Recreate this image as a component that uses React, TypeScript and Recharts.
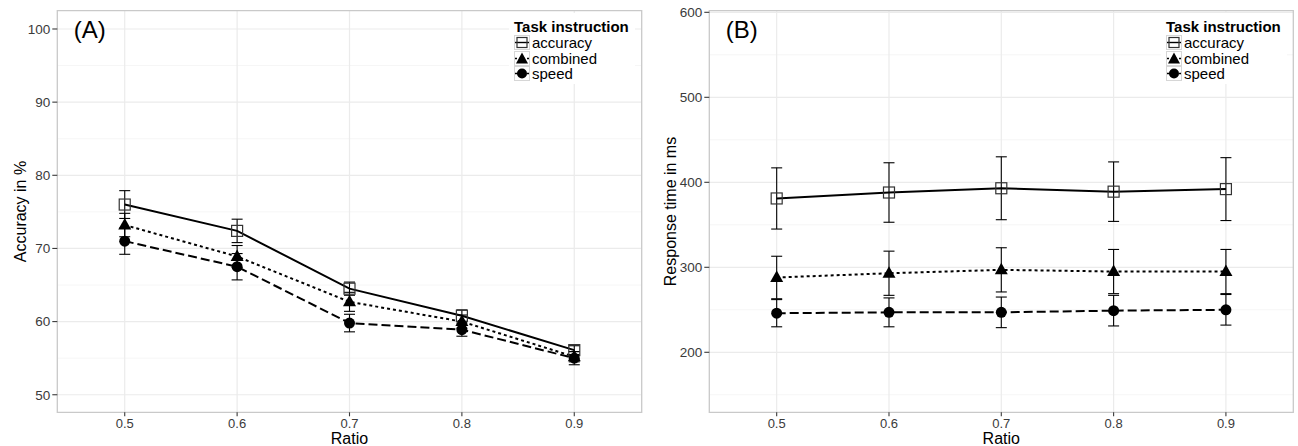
import React from 'react';
import {
  LineChart,
  Line,
  XAxis,
  YAxis,
  CartesianGrid,
  ErrorBar,
  ReferenceArea,
  Label,
  Legend,
} from 'recharts';

const FONT = '"Liberation Sans", Arial, Helvetica, sans-serif';

// ---------- data ----------
const ratios = [0.5, 0.6, 0.7, 0.8, 0.9];
const xTickValues = [0.5, 0.6, 0.7, 0.8, 0.9];
const legendLabels = ['accuracy', 'combined', 'speed'];

// Panel A: accuracy in %
const accAccuracy = [76.0, 72.4, 64.5, 60.8, 56.1];
const accAccuracyErr = [1.9, 1.6, 0.9, 0.8, 0.6];
const accCombined = [73.2, 68.9, 62.7, 60.0, 55.2];
const accCombinedErr = [1.6, 1.5, 1.3, 0.9, 0.7];
const accSpeed = [71.0, 67.5, 59.8, 58.9, 55.0];
const accSpeedErr = [1.8, 1.8, 1.2, 0.9, 0.9];
const accYTicks = [50, 60, 70, 80, 90, 100];
const accYMinor = [55, 65, 75, 85, 95];

// Panel B: response time in ms
const rtAccuracy = [381, 388, 393, 389, 392];
const rtAccuracyErr = [36, 35, 37, 35, 37];
const rtCombined = [288, 293, 297, 295, 295];
const rtCombinedErr = [25, 26, 26, 26, 26];
const rtSpeed = [246, 247, 247, 249, 250];
const rtSpeedErr = [16, 17, 18, 18, 18];
const rtYTicks = [200, 300, 400, 500, 600];
const rtYMinor = [150, 250, 350, 450, 550];

function buildRows(a: number[], ae: number[], c: number[], ce: number[], s: number[], se: number[]) {
  return ratios.map((r, i) => ({
    ratio: r,
    accuracy: a[i],
    accuracyErr: ae[i],
    combined: c[i],
    combinedErr: ce[i],
    speed: s[i],
    speedErr: se[i],
  }));
}

const accRows = buildRows(accAccuracy, accAccuracyErr, accCombined, accCombinedErr, accSpeed, accSpeedErr);
const rtRows = buildRows(rtAccuracy, rtAccuracyErr, rtCombined, rtCombinedErr, rtSpeed, rtSpeedErr);

// ---------- markers ----------
const SquareDot = (p: any) => {
  const { cx, cy, index } = p;
  if (cx == null || cy == null) return <g key={`sq-${index}`} />;
  return (
    <rect key={`sq-${index}`} x={cx - 5.5} y={cy - 5.5} width={11} height={11} fill="none" stroke="#333" strokeWidth={1.2} />
  );
};
const TriangleDot = (p: any) => {
  const { cx, cy, index } = p;
  if (cx == null || cy == null) return <g key={`tr-${index}`} />;
  return <path key={`tr-${index}`} d={`M${cx},${cy - 7} L${cx + 6.5},${cy + 4.5} L${cx - 6.5},${cy + 4.5} Z`} fill="#000" />;
};
const CircleDot = (p: any) => {
  const { cx, cy, index } = p;
  if (cx == null || cy == null) return <g key={`ci-${index}`} />;
  return <circle key={`ci-${index}`} cx={cx} cy={cy} r={5.5} fill="#000" />;
};

const LINE_W = 2;
const DOTTED = '3 3';
const DASHED = '9 4';

function LegendKey({ kind }: { kind: string }) {
  const dash = kind === 'accuracy' ? undefined : kind === 'combined' ? '2 2' : '4 2';
  return (
    <svg width={16} height={15} style={{ display: 'block' }}>
      <rect x={0.5} y={0.5} width={15} height={14} fill="#fff" stroke="#d6d6d6" strokeWidth={1} />
      <line x1={1} x2={15} y1={7.5} y2={7.5} stroke="#000" strokeWidth={1.4} strokeDasharray={dash} />
      {kind === 'accuracy' && <rect x={3} y={2.5} width={10} height={10} fill="none" stroke="#333" strokeWidth={1.2} />}
      {kind === 'combined' && <path d="M8,1.5 L14,12.5 L2,12.5 Z" fill="#000" />}
      {kind === 'speed' && <circle cx={8} cy={7.5} r={5} fill="#000" />}
    </svg>
  );
}

const renderLegend = () => (
  <div style={{ fontFamily: FONT, background: '#fff', padding: '5px 6px 2px 5px' }}>
    <div style={{ fontWeight: 'bold', fontSize: 15, lineHeight: '17px', color: '#000', whiteSpace: 'nowrap' }}>
      Task instruction
    </div>
    {legendLabels.map((l) => (
      <div key={l} style={{ display: 'flex', alignItems: 'center', height: 15.5 }}>
        <LegendKey kind={l} />
        <span style={{ fontSize: 15, lineHeight: '15px', marginLeft: 2, color: '#000', whiteSpace: 'nowrap' }}>{l}</span>
      </div>
    ))}
  </div>
);

interface PanelProps {
  rows: any[];
  width: number;
  margin: { top: number; right: number; bottom: number; left: number };
  yWidth: number;
  yDomain: [number, number];
  yTicks: number[];
  yMinor: number[];
  yTitle: string;
  letter: string;
  legendLeft: number;
}

const X_DOMAIN: [number, number] = [0.44, 0.96];
const TICK_COLOR = '#3a3a3a';

function Panel(props: PanelProps) {
  const { rows, width, margin, yWidth, yDomain, yTicks, yMinor, yTitle, letter, legendLeft } = props;
  return (
    <LineChart width={width} height={446} data={rows} margin={margin}>
      <CartesianGrid horizontalValues={yMinor} vertical={false} stroke="#f6f6f6" strokeWidth={1} />
      <CartesianGrid horizontalValues={yTicks} verticalValues={xTickValues} stroke="#ebebeb" strokeWidth={1.2} />
      <XAxis
        type="number"
        dataKey="ratio"
        domain={X_DOMAIN}
        ticks={xTickValues}
        interval={0}
        allowDataOverflow
        tickFormatter={(v: number) => v.toFixed(1)}
        height={33.7}
        tickSize={4}
        tickMargin={2.5}
        axisLine={false}
        tickLine={{ stroke: TICK_COLOR, strokeWidth: 1.1 }}
        tick={{ fill: TICK_COLOR, fontSize: 13, fontFamily: FONT }}
      >
        <Label
          content={(lp: any) => {
            const vb = lp.viewBox || { x: 0, y: 0, width: 0, height: 0 };
            const cx = vb.x + vb.width / 2;
            const by = vb.y + vb.height - 2;
            return (
              <text x={cx} y={by} textAnchor="middle" fontSize={16} fontFamily={FONT} fill="#000">
                Ratio
              </text>
            );
          }}
        />
      </XAxis>
      <YAxis
        type="number"
        domain={yDomain}
        ticks={yTicks}
        interval={0}
        allowDataOverflow
        width={yWidth}
        tickSize={5}
        tickMargin={2}
        axisLine={false}
        tickLine={{ stroke: TICK_COLOR, strokeWidth: 1.1 }}
        tick={{ fill: TICK_COLOR, fontSize: 13.5, fontFamily: FONT }}
      >
        <Label
          content={(lp: any) => {
            const vb = lp.viewBox || { x: 0, y: 0, width: 0, height: 0 };
            const cx = vb.x + 13.5;
            const cy = vb.y + vb.height / 2;
            return (
              <text
                x={cx}
                y={cy}
                transform={`rotate(-90 ${cx} ${cy})`}
                textAnchor="middle"
                dominantBaseline="central"
                fontSize={16}
                fontFamily={FONT}
                fill="#000"
              >
                {yTitle}
              </text>
            );
          }}
        />
      </YAxis>
      <ReferenceArea
        x1={X_DOMAIN[0]}
        x2={X_DOMAIN[1]}
        y1={yDomain[0]}
        y2={yDomain[1]}
        fill="none"
        stroke="#c9c9c9"
        strokeWidth={1.3}
        ifOverflow="visible"
      >
        <Label
          content={(lp: any) => {
            const vb = lp.viewBox || { x: 0, y: 0 };
            return (
              <text x={vb.x + 16.5} y={vb.y + 27.3} fontSize={24} fontFamily={FONT} fill="#000">
                {letter}
              </text>
            );
          }}
        />
      </ReferenceArea>
      <Line
        dataKey="accuracy"
        stroke="#000"
        strokeWidth={LINE_W}
        dot={SquareDot}
        activeDot={false}
        isAnimationActive={false}
      >
        <ErrorBar dataKey="accuracyErr" direction="y" width={5.5} stroke="#000" strokeWidth={1.1} isAnimationActive={false} />
      </Line>
      <Line
        dataKey="combined"
        stroke="#000"
        strokeWidth={LINE_W}
        strokeDasharray={DOTTED}
        dot={TriangleDot}
        activeDot={false}
        isAnimationActive={false}
      >
        <ErrorBar dataKey="combinedErr" direction="y" width={5.5} stroke="#000" strokeWidth={1.1} isAnimationActive={false} />
      </Line>
      <Line
        dataKey="speed"
        stroke="#000"
        strokeWidth={LINE_W}
        strokeDasharray={DASHED}
        dot={CircleDot}
        activeDot={false}
        isAnimationActive={false}
      >
        <ErrorBar dataKey="speedErr" direction="y" width={5.5} stroke="#000" strokeWidth={1.1} isAnimationActive={false} />
      </Line>
      <Legend
        layout="vertical"
        align="center"
        verticalAlign="middle"
        content={renderLegend}
        wrapperStyle={{ left: legendLeft, top: 13, width: 'auto', height: 'auto' }}
      />
    </LineChart>
  );
}

export default function App() {
  return (
    <div
      style={{
        position: 'absolute',
        left: 0,
        top: 0,
        width: 1298,
        height: 446,
        background: '#fff',
        display: 'flex',
        overflow: 'hidden',
      }}
    >
      <Panel
        rows={accRows}
        width={650}
        margin={{ top: 10.7, right: 8.3, bottom: 0, left: 7.3 }}
        yWidth={50}
        yDomain={[47.6, 102.5]}
        yTicks={accYTicks}
        yMinor={accYMinor}
        yTitle="Accuracy in %"
        letter="(A)"
        legendLeft={509}
      />
      <Panel
        rows={rtRows}
        width={648}
        margin={{ top: 10.7, right: 4.7, bottom: 0, left: 7.3 }}
        yWidth={52}
        yDomain={[129.4, 601.9]}
        yTicks={rtYTicks}
        yMinor={rtYMinor}
        yTitle="Response time in ms"
        letter="(B)"
        legendLeft={511}
      />
    </div>
  );
}
